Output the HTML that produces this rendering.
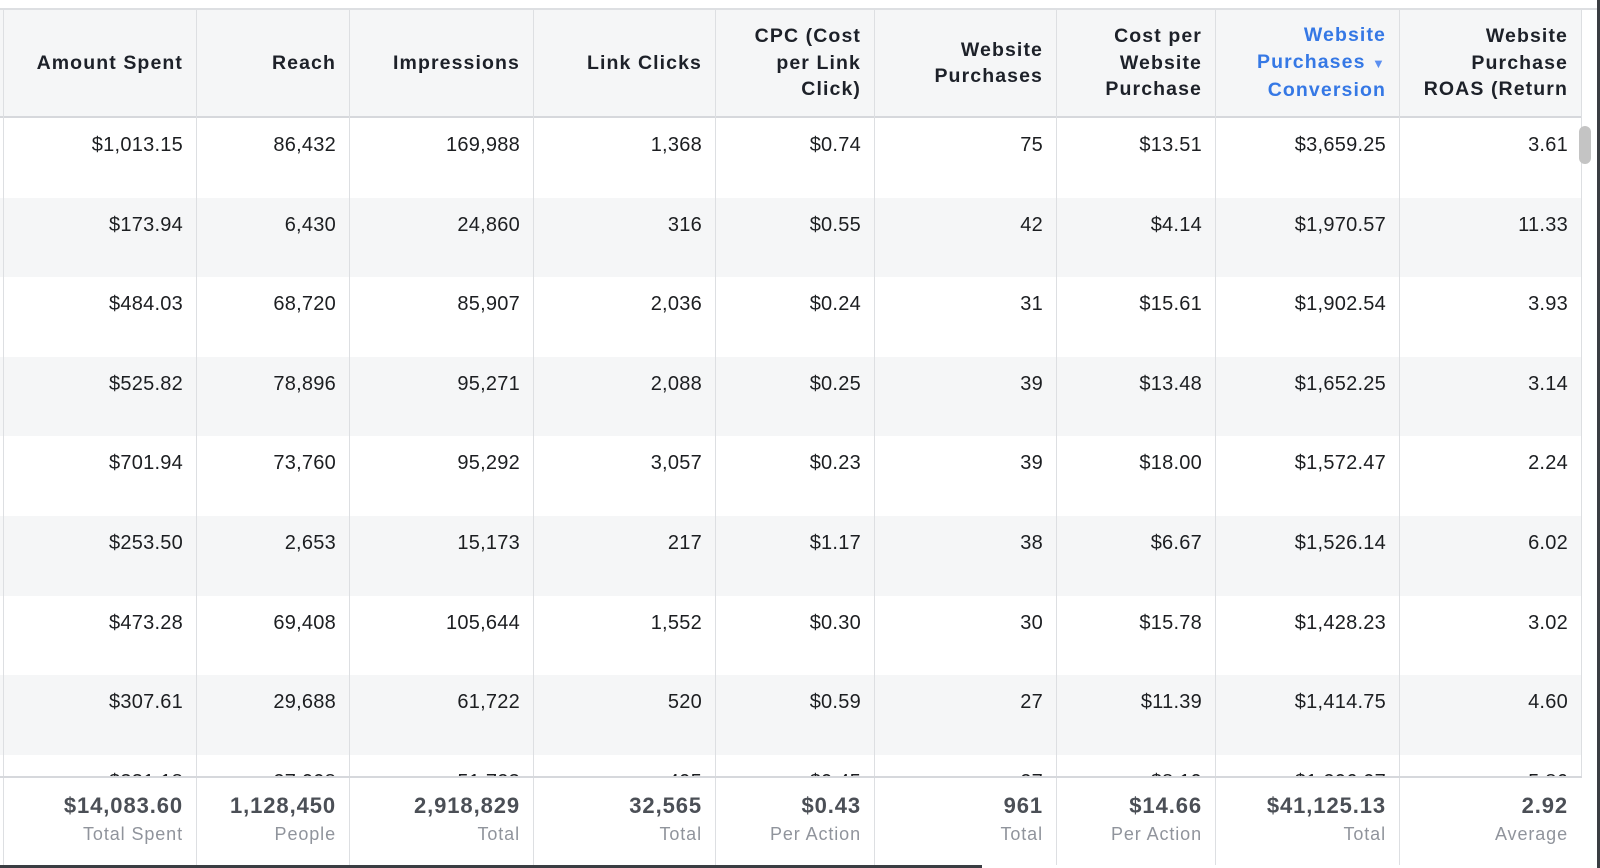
<!DOCTYPE html>
<html><head><meta charset="utf-8">
<style>
body{margin:0;width:1600px;height:868px;background:#fff;overflow:hidden;font-family:"Liberation Sans",sans-serif;position:relative}
.abs{position:absolute;box-sizing:border-box}
.hdr{font-weight:bold;font-size:19.5px;letter-spacing:1.1px;line-height:26.5px;color:#1d2129;text-align:right;display:flex;align-items:center;justify-content:flex-end}
.cell{font-size:20px;letter-spacing:0.25px;color:#1c1e21;text-align:right;line-height:24px;padding-top:15px}
.tot{font-weight:bold;font-size:22px;letter-spacing:0.9px;color:#4b4f56;text-align:right;line-height:26px}
.sub{font-size:18px;letter-spacing:0.9px;color:#90949c;text-align:right;line-height:22px}
.arr{font-size:13px;color:#5b8ff0}
</style></head><body>
<div id="root"></div>
<script>
const headers=["Amount Spent","Reach","Impressions","Link Clicks","CPC (Cost<br>per Link<br>Click)","Website<br>Purchases","Cost per<br>Website<br>Purchase","Website<br>Purchases <span class='arr'>▼</span><br>Conversion","Website<br>Purchase<br>ROAS (Return"];
const colNames=["amount-spent","reach","impressions","link-clicks","cpc","website-purchases","cost-per-purchase","purchases-conversion","roas"];
const rows=[
["$1,013.15","86,432","169,988","1,368","$0.74","75","$13.51","$3,659.25","3.61"],
["$173.94","6,430","24,860","316","$0.55","42","$4.14","$1,970.57","11.33"],
["$484.03","68,720","85,907","2,036","$0.24","31","$15.61","$1,902.54","3.93"],
["$525.82","78,896","95,271","2,088","$0.25","39","$13.48","$1,652.25","3.14"],
["$701.94","73,760","95,292","3,057","$0.23","39","$18.00","$1,572.47","2.24"],
["$253.50","2,653","15,173","217","$1.17","38","$6.67","$1,526.14","6.02"],
["$473.28","69,408","105,644","1,552","$0.30","30","$15.78","$1,428.23","3.02"],
["$307.61","29,688","61,722","520","$0.59","27","$11.39","$1,414.75","4.60"],
["$331.18","27,008","51,723","495","$0.45","27","$8.19","$1,206.07","5.86"]];
const totals=["$14,083.60","1,128,450","2,918,829","32,565","$0.43","961","$14.66","$41,125.13","2.92"];
const totalLabels=["Total Spent","People","Total","Total","Per Action","Total","Per Action","Total","Average"];
const X=[4,197,350,534,716,875,1057,1216,1400,1582];
const root=document.getElementById('root');
function mk(cls,x,y,w,h,css){const d=document.createElement('div');d.className='abs '+(cls||'');d.style.cssText+=`left:${x}px;top:${y}px;width:${w}px;height:${h}px;`+(css||'');root.appendChild(d);return d;}
let t=mk('',0,8,1600,2,'background:#dddfe2');


let hb=mk('',0,10,1582,108,'background:#f5f6f7;border-bottom:2px solid #d6d8dc');


const RH=79.6,R0=118;
rows.forEach((r,i)=>{
  const y=R0+i*RH;
  const rb=mk('',0,y,1582,RH,'background:'+(i%2?'#f5f6f7':'#fff'));
  
  
});
X.forEach((x,i)=>{
  const l=mk('',x-1,10,1,855,'background:#dddfe2');
  
  
});
headers.forEach((h,i)=>{
  const d=mk('hdr',X[i],10,X[i+1]-X[i]-14,106,(i==7?'color:#3578e5;':''));
  d.innerHTML='<span>'+h+'</span>';
  
  
});
rows.forEach((r,i)=>{
  const y=R0+i*RH;
  r.forEach((v,j)=>{
    const c=mk('cell',X[j],y,X[j+1]-X[j]-14,RH);
    c.textContent=v;
    
    
  });
});
let fb=mk('',0,776,1582,89,'background:#fff;border-top:2px solid #d6d8dc');


totals.forEach((v,j)=>{
  const l=mk('',X[j]-1,778,1,87,'background:#dddfe2');
  
  
  const a=mk('tot',X[j],793,X[j+1]-X[j]-14,26);a.textContent=v;
  
  
  const b=mk('sub',X[j],823,X[j+1]-X[j]-14,22);b.textContent=totalLabels[j];
  
  
});
let sb=mk('',1579,126,12,38,'background:#c4c4c4;border-radius:6px');


let rb=mk('',1597,0,3,868,'background:#3a3d42');


let bb=mk('',0,865,982,3,'background:#3a3d42');


</script>
</body></html>
